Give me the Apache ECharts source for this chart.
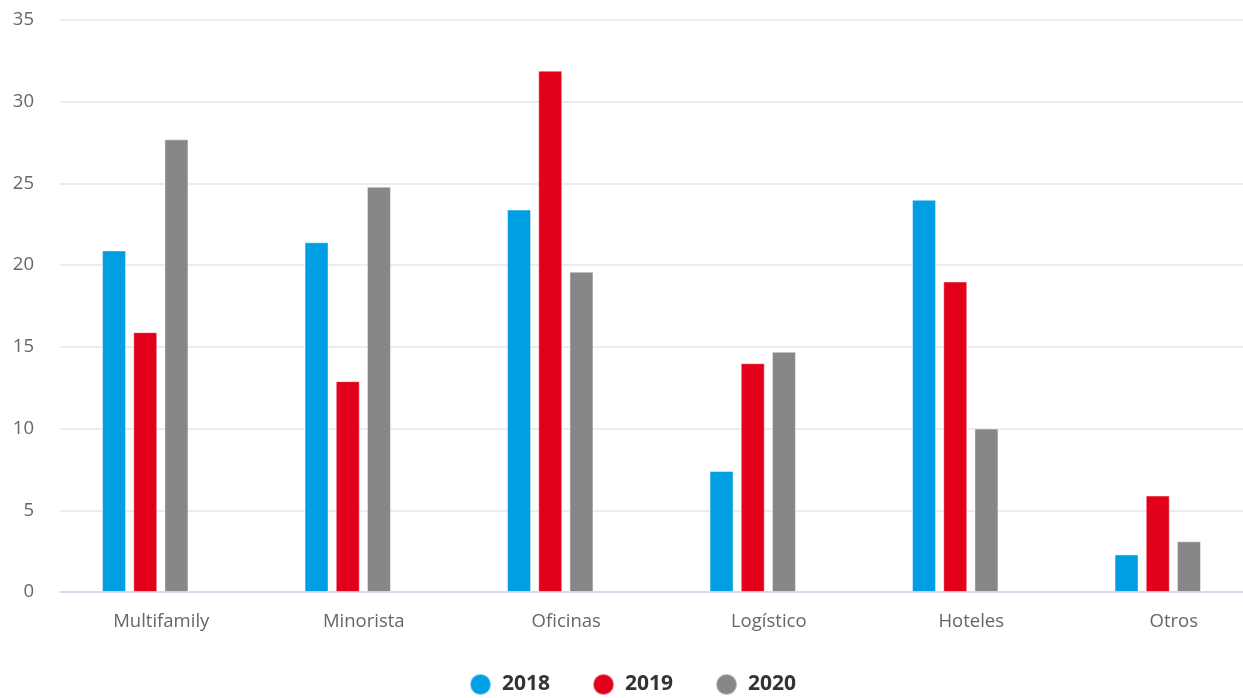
<!DOCTYPE html>
<html>
<head>
<meta charset="utf-8">
<script src="https://cdn.jsdelivr.net/npm/echarts@6/dist/echarts.min.js"></script>
<style>
  html, body { margin: 0; padding: 0; background: #fff; overflow: hidden; }
  #chart { width: 1280px; height: 698px; }
</style>
</head>
<body>
<div id="chart"></div>
<script>
// Investment volume by segment and year
const categories = ['Multifamily', 'Minorista', 'Oficinas', 'Logístico', 'Hoteles', 'Otros'];
const years = ['2018', '2019', '2020'];
const values2018 = [20.9, 21.4, 23.4, 7.4, 24.0, 2.3];
const values2019 = [15.9, 12.9, 31.9, 14.0, 19.0, 5.9];
const values2020 = [27.7, 24.8, 19.6, 14.7, 10.0, 3.1];
const yTicks = [0, 5, 10, 15, 20, 25, 30, 35];
const colors = ['#009fe3', '#e2001a', '#878787'];

const font = '"Open Sans", "Noto Sans", sans-serif';
const yMin = yTicks[0], yMax = yTicks[yTicks.length - 1], yStep = yTicks[1] - yTicks[0];
const seriesValues = [values2018, values2019, values2020];

const chart = echarts.init(document.getElementById('chart'), null, { renderer: 'canvas' });

chart.setOption({
  animation: false,
  backgroundColor: '#ffffff',
  color: colors,
  legend: {
    top: 668,
    left: 464,
    icon: 'circle',
    itemWidth: 21,
    itemHeight: 21,
    itemGap: 42,
    textStyle: { fontFamily: font, fontSize: 21, fontWeight: 'bold', color: '#333333', padding: [0, 0, 0, 6] },
    data: years
  },
  grid: [
    // bars
    { left: 44, right: 21, top: 20, bottom: 106, containLabel: false },
    // value scale, grid lines and baseline (page is 1243 wide)
    { left: 60, right: 37, top: 20, bottom: 106, containLabel: false },
    // category labels
    { left: 60, right: 5, top: 20, bottom: 106, containLabel: false }
  ],
  xAxis: [
    {
      gridIndex: 0,
      type: 'category',
      data: categories,
      axisLine: { show: false },
      axisTick: { show: false },
      axisLabel: { show: false }
    },
    {
      gridIndex: 1,
      type: 'value',
      min: 0, max: 1,
      axisLine: { show: true, lineStyle: { color: '#ccd6eb', width: 1.5 } },
      axisTick: { show: false },
      axisLabel: { show: false },
      splitLine: { show: false }
    },
    {
      gridIndex: 2,
      type: 'category',
      data: categories,
      axisLine: { show: false },
      axisTick: { show: false },
      axisLabel: { fontFamily: font, fontSize: 18.5, color: '#666666', margin: 20 }
    }
  ],
  yAxis: [
    {
      gridIndex: 0,
      type: 'value',
      min: yMin, max: yMax, interval: yStep,
      show: false
    },
    {
      gridIndex: 1,
      type: 'value',
      min: yMin, max: yMax, interval: yStep,
      axisLine: { show: false },
      axisTick: { show: false },
      axisLabel: { fontFamily: font, fontSize: 18.5, color: '#666666', margin: 26 },
      splitLine: { lineStyle: { color: '#e6e6e6', width: 1.5 } }
    },
    {
      gridIndex: 2,
      type: 'value',
      min: yMin, max: yMax, interval: yStep,
      show: false
    }
  ],
  series: years.map((y, i) => ({
    name: y,
    type: 'bar',
    xAxisIndex: 0,
    yAxisIndex: 0,
    data: seriesValues[i],
    barWidth: 24,
    barGap: '30%',
    itemStyle: { color: colors[i], borderColor: 'rgba(255,255,255,0.45)', borderWidth: 1 }
  }))
});
</script>
</body>
</html>
